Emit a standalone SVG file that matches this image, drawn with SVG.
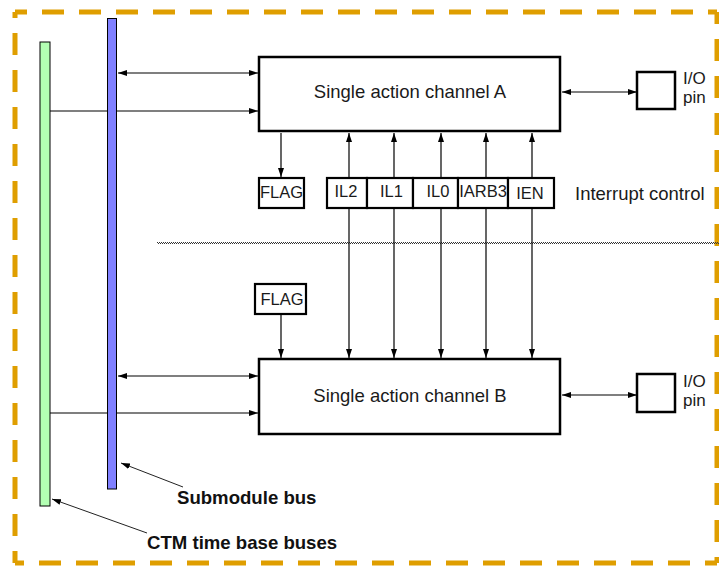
<svg xmlns="http://www.w3.org/2000/svg" width="719" height="567" viewBox="0 0 719 567">
<style>
.box{fill:#fff;stroke:#000;stroke-width:2.5}
.sbox{fill:#fff;stroke:#000;stroke-width:2.2}
.t{font-family:"Liberation Sans",Arial,sans-serif;font-size:18.5px;fill:#1a1a1a}
.io{font-family:"Liberation Sans",Arial,sans-serif;font-size:17px;fill:#1a1a1a}
.s{font-family:"Liberation Sans",Arial,sans-serif;font-size:16.5px;fill:#1a1a1a}
.b{font-family:"Liberation Sans",Arial,sans-serif;font-size:18.6px;font-weight:bold;fill:#111}
.c{stroke:#000;stroke-width:1.2;fill:none}
.lead{stroke:#222;stroke-width:1;fill:none}
.bd{stroke:#df9e00;stroke-width:5;fill:none;stroke-dasharray:22 15;stroke-dashoffset:10}
</style>
<defs>
<marker id="ah" markerUnits="userSpaceOnUse" markerWidth="10" markerHeight="8" refX="9" refY="4" orient="auto-start-reverse">
<path d="M0,1 L9,4 L0,7 z" fill="#000"/>
</marker>
</defs>
<g id="border">
<line class="bd" x1="15" y1="12" x2="717" y2="12"/>
<line class="bd" x1="717" y1="12" x2="717" y2="563"/>
<line class="bd" x1="717" y1="563" x2="15" y2="563"/>
<line class="bd" x1="15" y1="563" x2="15" y2="12"/>
</g>
<g id="divider">
<line x1="157" y1="242.5" x2="719" y2="242.5" stroke="#333" stroke-width="1" stroke-dasharray="1 1"/>
<line x1="158" y1="243.5" x2="719" y2="243.5" stroke="#333" stroke-width="1" stroke-dasharray="1 1"/>
</g>
<g id="connectors">
<line class="c" x1="118" y1="73" x2="258" y2="73" marker-start="url(#ah)" marker-end="url(#ah)"/>
<line class="c" x1="50" y1="111" x2="258" y2="111" marker-end="url(#ah)"/>
<line class="c" x1="118" y1="376" x2="258" y2="376" marker-start="url(#ah)" marker-end="url(#ah)"/>
<line class="c" x1="50" y1="413" x2="258" y2="413" marker-end="url(#ah)"/>
<line class="c" x1="562" y1="92" x2="637" y2="92" marker-start="url(#ah)" marker-end="url(#ah)"/>
<line class="c" x1="562" y1="395" x2="637" y2="395" marker-start="url(#ah)" marker-end="url(#ah)"/>
<line class="c" x1="281" y1="133" x2="281" y2="177" marker-end="url(#ah)"/>
<line class="c" x1="281" y1="314" x2="281" y2="358" marker-end="url(#ah)"/>
<line class="c" x1="349" y1="133" x2="349" y2="358" marker-start="url(#ah)" marker-end="url(#ah)"/>
<line class="c" x1="394" y1="133" x2="394" y2="358" marker-start="url(#ah)" marker-end="url(#ah)"/>
<line class="c" x1="441" y1="133" x2="441" y2="358" marker-start="url(#ah)" marker-end="url(#ah)"/>
<line class="c" x1="486" y1="133" x2="486" y2="358" marker-start="url(#ah)" marker-end="url(#ah)"/>
<line class="c" x1="532" y1="133" x2="532" y2="358" marker-start="url(#ah)" marker-end="url(#ah)"/>
<line class="lead" x1="183" y1="487" x2="121" y2="463" marker-end="url(#ah)"/>
<line class="lead" x1="147" y1="533" x2="52" y2="499" marker-end="url(#ah)"/>
</g>
<g id="ctm-bus"><rect x="40" y="42" width="10" height="464" fill="#b3ffb3" stroke="#000" stroke-width="1"/></g>
<g id="submodule-bus"><rect x="107.5" y="18.5" width="9" height="470.5" fill="#8080ff" stroke="#000" stroke-width="1"/></g>
<g id="channel-a"><rect class="box" x="259" y="57" width="301" height="74"/><text class="t" x="410" y="98" text-anchor="middle">Single action channel A</text></g>
<g id="channel-b"><rect class="box" x="259" y="359" width="301" height="75"/><text class="t" x="410" y="402" text-anchor="middle">Single action channel B</text></g>
<g id="io-a"><rect class="box" x="637" y="72" width="38" height="37"/><text class="io" x="683" y="84">I/O</text><text class="io" x="683" y="103">pin</text></g>
<g id="io-b"><rect class="box" x="637" y="374" width="38" height="38"/><text class="io" x="683" y="387">I/O</text><text class="io" x="683" y="406">pin</text></g>
<g id="flag-a"><rect class="sbox" x="259" y="178" width="45" height="30"/><text class="s" x="281.5" y="198" text-anchor="middle">FLAG</text></g>
<g id="flag-b"><rect class="sbox" x="255" y="284" width="51" height="30"/><text class="s" x="282" y="305" text-anchor="middle">FLAG</text></g>
<g id="il2"><rect class="sbox" x="327" y="178" width="40" height="30"/><text class="s" x="346" y="197" text-anchor="middle">IL2</text></g>
<g id="il1"><rect class="sbox" x="367" y="178" width="46" height="30"/><text class="s" x="391.5" y="197" text-anchor="middle">IL1</text></g>
<g id="il0"><rect class="sbox" x="413" y="178" width="45" height="30"/><text class="s" x="438" y="197" text-anchor="middle">IL0</text></g>
<g id="iarb3"><rect class="sbox" x="458" y="178" width="50" height="30"/><text class="s" x="483" y="197" text-anchor="middle">IARB3</text></g>
<g id="ien"><rect class="sbox" x="508" y="178" width="46" height="30"/><text class="s" x="530" y="199" text-anchor="middle">IEN</text></g>
<g id="labels">
<text class="t" x="575" y="200">Interrupt control</text>
<text class="b" x="177" y="504">Submodule bus</text>
<text class="b" x="147" y="549">CTM time base buses</text>
</g>
</svg>
